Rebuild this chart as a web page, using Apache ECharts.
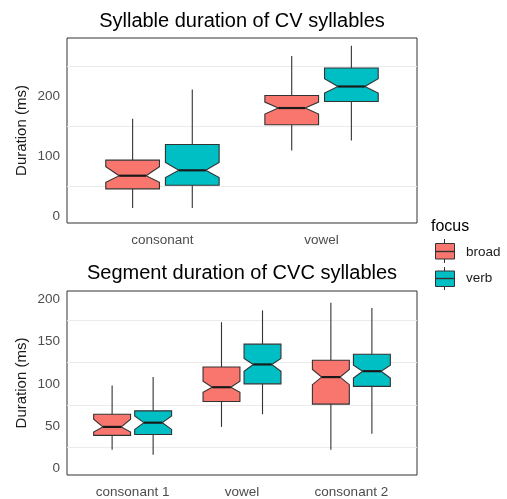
<!DOCTYPE html>
<html>
<head>
<meta charset="utf-8">
<script src="https://cdn.jsdelivr.net/npm/echarts@6.0.0/dist/echarts.min.js"></script>
<style>
  html, body { margin: 0; padding: 0; background: #fff; }
  #chart { width: 507px; height: 499px; }
</style>
</head>
<body>
<div id="chart"></div>
<script>
// categorias y niveles de foco
const cvCategories = ['consonant', 'vowel'];
const cvcCategories = ['consonant 1', 'vowel', 'consonant 2'];
const focusLevels = ['broad', 'verb'];

// cada fila: [low, q1, notchLow, median, notchHigh, q3, high]
const cvBroad = [
  [13, 45, 56, 67, 82, 93, 162],
  [109, 152, 170, 180, 190, 201, 267]
];
const cvVerb = [
  [13, 51, 64, 76, 89, 119, 211],
  [126, 191, 205, 216, 229, 247, 284]
];
const cvcBroad = [
  [22, 39, 43, 49, 58, 64, 98],
  [49, 79, 90, 96, 103, 120, 173],
  [22, 76, 99, 108, 117, 128, 196]
];
const cvcVerb = [
  [16, 40, 46, 54, 62, 68, 108],
  [64, 100, 115, 123, 130, 147, 187],
  [41, 97, 107, 115, 122, 135, 190]
];

// lineas de cuadricula menores
const cvGrid = [50, 150, 250];
const cvcGrid = [25, 75, 125, 175];

const colors = { broad: '#F8766D', verb: '#00BFC4' };
const font = "'Liberation Sans', Arial, sans-serif";

// dodge de ggplot: ancho 0.75, padding 0.1
const dodge = 0.1875;
const halfWidth = 0.16875;
const notchFrac = 0.25;

function renderNotch(offset, color) {
  return function (params, api) {
    const x = api.value(0) + offset;
    const L = api.coord([x - halfWidth, 0])[0];
    const R = api.coord([x + halfWidth, 0])[0];
    const C = api.coord([x, 0])[0];
    const y = i => api.coord([x, api.value(i)])[1];
    const low = y(1), q1 = y(2), nLow = y(3), med = y(4), nHigh = y(5), q3 = y(6), high = y(7);
    const ind = (R - L) * notchFrac;
    const lineStyle = { stroke: '#333', lineWidth: 1.1 };
    return {
      type: 'group',
      children: [
        { type: 'line', shape: { x1: C, y1: high, x2: C, y2: q3 }, style: lineStyle },
        { type: 'line', shape: { x1: C, y1: q1, x2: C, y2: low }, style: lineStyle },
        {
          type: 'polygon',
          shape: {
            points: [
              [L, q3], [R, q3], [R, nHigh], [R - ind, med], [R, nLow],
              [R, q1], [L, q1], [L, nLow], [L + ind, med], [L, nHigh]
            ]
          },
          style: { fill: color, stroke: '#333', lineWidth: 1.1 }
        },
        { type: 'line', shape: { x1: L + ind, y1: med, x2: R - ind, y2: med }, style: { stroke: '#1a1a1a', lineWidth: 2.2 } }
      ]
    };
  };
}

function toData(rows) {
  return rows.map((r, i) => [i + 1].concat(r));
}

function gridLines(values) {
  return {
    silent: true,
    symbol: 'none',
    label: { show: false },
    lineStyle: { color: '#EBEBEB', type: 'solid', width: 1 },
    data: values.map(v => ({ yAxis: v }))
  };
}

function makeSeries(rows, idx, offset, color, name, lines) {
  const s = {
    type: 'custom',
    name: name,
    xAxisIndex: idx,
    yAxisIndex: idx,
    renderItem: renderNotch(offset, color),
    encode: { x: 0, y: [1, 2, 3, 4, 5, 6, 7] },
    data: toData(rows),
    z: 3
  };
  if (lines) s.markLine = Object.assign(gridLines(lines), { z: 1 });
  return s;
}

const yAxisBase = {
  type: 'value',
  name: 'Duration (ms)',
  nameLocation: 'middle',
  nameGap: 38,
  nameMoveOverlap: false,
  nameTextStyle: { fontFamily: font, fontSize: 15, color: '#1a1a1a' },
  axisLine: { show: false },
  axisTick: { show: false },
  splitLine: { show: false },
  axisLabel: { fontFamily: font, fontSize: 13.5, color: '#4D4D4D', margin: 7 }
};

const xAxisBase = {
  type: 'value',
  axisLine: { show: false },
  axisTick: { show: false },
  splitLine: { show: false },
  axisLabel: { fontFamily: font, fontSize: 13.5, color: '#4D4D4D', margin: 10 }
};

const chart = echarts.init(document.getElementById('chart'), null, { renderer: 'canvas' });

const option = {
  animation: false,
  backgroundColor: '#fff',
  title: [
    {
      text: 'Syllable duration of CV syllables',
      left: 242, top: 11, textAlign: 'center', padding: 0,
      textStyle: { fontFamily: font, fontSize: 20, fontWeight: 'normal', color: '#000' }
    },
    {
      text: 'Segment duration of CVC syllables',
      left: 242, top: 263, textAlign: 'center', padding: 0,
      textStyle: { fontFamily: font, fontSize: 20, fontWeight: 'normal', color: '#000' }
    }
  ],
  grid: [
    { left: 67, width: 350, top: 38, height: 185, show: true, borderColor: '#333', borderWidth: 1, backgroundColor: 'transparent' },
    { left: 67, width: 350, top: 291, height: 184, show: true, borderColor: '#333', borderWidth: 1, backgroundColor: 'transparent' }
  ],
  xAxis: [
    Object.assign({}, xAxisBase, {
      gridIndex: 0, min: 0.4, max: 2.6,
      axisLabel: Object.assign({}, xAxisBase.axisLabel, {
        customValues: [1, 2],
        formatter: v => cvCategories[Math.round(v) - 1]
      })
    }),
    Object.assign({}, xAxisBase, {
      gridIndex: 1, min: 0.4, max: 3.6,
      axisLabel: Object.assign({}, xAxisBase.axisLabel, {
        customValues: [1, 2, 3],
        formatter: v => cvcCategories[Math.round(v) - 1]
      })
    })
  ],
  yAxis: [
    Object.assign({}, yAxisBase, {
      gridIndex: 0, min: -12, max: 297,
      axisLabel: Object.assign({}, yAxisBase.axisLabel, { customValues: [0, 100, 200] })
    }),
    Object.assign({}, yAxisBase, {
      gridIndex: 1, min: -8, max: 210,
      axisLabel: Object.assign({}, yAxisBase.axisLabel, { customValues: [0, 50, 100, 150, 200] })
    })
  ],
  series: [
    makeSeries(cvBroad, 0, -dodge, colors.broad, focusLevels[0], cvGrid),
    makeSeries(cvVerb, 0, dodge, colors.verb, focusLevels[1]),
    makeSeries(cvcBroad, 1, -dodge, colors.broad, focusLevels[0], cvcGrid),
    makeSeries(cvcVerb, 1, dodge, colors.verb, focusLevels[1])
  ],
  graphic: [
    { type: 'text', left: 431, top: 219, style: { text: 'focus', font: '16px ' + font, fill: '#000' } },
    // broad key
    { type: 'line', shape: { x1: 444.5, y1: 239, x2: 444.5, y2: 263 }, style: { stroke: '#333', lineWidth: 1 } },
    { type: 'rect', shape: { x: 435.5, y: 243.5, width: 19, height: 15.5 }, style: { fill: colors.broad, stroke: '#333', lineWidth: 1 } },
    { type: 'line', shape: { x1: 435.5, y1: 251.5, x2: 454.5, y2: 251.5 }, style: { stroke: '#333', lineWidth: 1.4 } },
    { type: 'text', left: 466, top: 245, style: { text: focusLevels[0], font: '13.5px ' + font, fill: '#1a1a1a' } },
    // verb key
    { type: 'line', shape: { x1: 444.5, y1: 267, x2: 444.5, y2: 290 }, style: { stroke: '#333', lineWidth: 1 } },
    { type: 'rect', shape: { x: 435.5, y: 271, width: 19, height: 15.5 }, style: { fill: colors.verb, stroke: '#333', lineWidth: 1 } },
    { type: 'line', shape: { x1: 435.5, y1: 278.5, x2: 454.5, y2: 278.5 }, style: { stroke: '#333', lineWidth: 1.4 } },
    { type: 'text', left: 466, top: 271, style: { text: focusLevels[1], font: '13.5px ' + font, fill: '#1a1a1a' } }
  ]
};

chart.setOption(option);
window.addEventListener('resize', () => chart.resize());
</script>
</body>
</html>
